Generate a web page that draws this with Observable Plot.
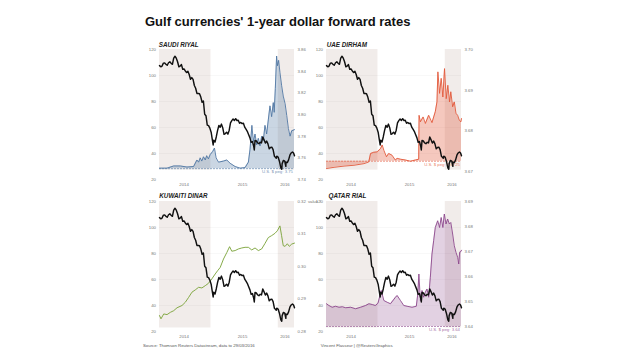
<!DOCTYPE html>
<html><head><meta charset="utf-8">
<script src="https://cdn.jsdelivr.net/npm/d3@7"></script>
<script src="https://cdn.jsdelivr.net/npm/@observablehq/plot@0.6"></script>
<style>
body{margin:0;background:#fff;}
#root{position:relative;width:620px;height:355px;overflow:hidden;font-family:"Liberation Sans",Arial,sans-serif;}
#root svg{position:absolute;}
</style></head><body><div id="root"></div>
<script>
// ---------- data ----------
const oilDates = ["2014-03-28","2014-04-04","2014-04-11","2014-04-18","2014-04-25","2014-05-02","2014-05-09","2014-05-16","2014-05-23","2014-05-30",
"2014-06-06","2014-06-13","2014-06-20","2014-06-27","2014-07-04","2014-07-11","2014-07-18","2014-07-25","2014-08-01","2014-08-08",
"2014-08-15","2014-08-22","2014-08-29","2014-09-05","2014-09-12","2014-09-19","2014-09-26","2014-10-03","2014-10-10","2014-10-17",
"2014-10-24","2014-10-31","2014-11-07","2014-11-14","2014-11-21","2014-11-28","2014-12-05","2014-12-12","2014-12-19","2014-12-26",
"2015-01-02","2015-01-09","2015-01-13","2015-01-16","2015-01-23","2015-01-30","2015-02-06","2015-02-13","2015-02-20","2015-02-27",
"2015-03-06","2015-03-13","2015-03-20","2015-03-27","2015-04-03","2015-04-10","2015-04-17","2015-04-24","2015-05-01","2015-05-08",
"2015-05-15","2015-05-22","2015-05-29","2015-06-05","2015-06-12","2015-06-19","2015-06-26","2015-07-03","2015-07-10","2015-07-17",
"2015-07-24","2015-07-31","2015-08-07","2015-08-14","2015-08-21","2015-08-24","2015-08-28","2015-09-04","2015-09-11","2015-09-18",
"2015-09-25","2015-10-02","2015-10-09","2015-10-16","2015-10-23","2015-10-30","2015-11-06","2015-11-13","2015-11-20","2015-11-27",
"2015-12-04","2015-12-11","2015-12-18","2015-12-21","2015-12-24","2015-12-31","2016-01-08","2016-01-15","2016-01-20","2016-01-22",
"2016-01-29","2016-02-05","2016-02-11","2016-02-12","2016-02-19","2016-02-26","2016-03-04","2016-03-11","2016-03-18","2016-03-24","2016-03-29"];
const oilPrice = [107.6,106.7,107.3,109.5,109.6,108.6,107.9,109.8,110.5,109.4,
108.6,113.4,114.8,113.3,110.6,106.7,107.2,108.4,104.8,105.0,
103.5,102.3,103.2,100.8,97.1,98.4,97.0,92.3,90.2,86.2,
86.1,85.9,83.4,79.4,80.4,70.2,69.1,61.9,61.4,59.5,
56.4,50.1,46.6,50.2,48.8,52.9,57.8,61.5,60.2,62.6,
59.7,54.7,55.3,56.4,54.9,57.9,63.5,65.3,66.5,65.4,
66.8,65.4,65.6,63.3,63.9,63.0,63.3,60.3,58.7,57.1,
54.6,52.2,48.6,49.2,45.5,42.7,50.1,49.6,48.1,47.5,
48.6,48.1,52.7,50.5,48.0,49.6,47.4,43.6,44.7,44.9,
43.0,37.9,36.9,36.4,37.9,37.3,33.6,28.9,27.9,32.2,
34.7,34.1,30.1,33.4,33.0,35.1,38.7,40.4,41.2,40.4,38.3];

const sarDates = ["2014-03-28","2014-05-08","2014-06-13","2014-07-19","2014-08-24","2014-09-29","2014-10-17","2014-10-26","2014-11-04","2014-11-12",
"2014-11-22","2014-12-01","2014-12-09","2014-12-18","2014-12-28","2015-01-11","2015-01-20","2015-01-29","2015-02-11","2015-03-10",
"2015-03-28","2015-04-15","2015-05-12","2015-06-08","2015-07-05","2015-07-23","2015-08-01","2015-08-11","2015-08-19","2015-08-28",
"2015-09-06","2015-09-15","2015-09-24","2015-10-03","2015-10-12","2015-10-21","2015-10-30","2015-11-08","2015-11-17","2015-11-26",
"2015-12-05","2015-12-10","2015-12-16","2015-12-23","2015-12-28","2016-01-03","2016-01-10","2016-01-19","2016-01-28","2016-02-07",
"2016-02-16","2016-02-25","2016-03-05","2016-03-14","2016-03-29"];
const sarValue = [3.7505,3.7505,3.7525,3.7525,3.7515,3.752,3.758,3.756,3.760,3.757,
3.761,3.758,3.762,3.759,3.763,3.766,3.769,3.760,3.756,3.757,
3.758,3.755,3.752,3.7505,3.751,3.756,3.768,3.790,3.775,3.782,
3.772,3.778,3.771,3.780,3.776,3.790,3.782,3.795,3.808,3.798,
3.811,3.802,3.824,3.854,3.845,3.850,3.839,3.827,3.817,3.810,
3.799,3.787,3.780,3.785,3.786];

const aedDates = ["2014-03-28","2014-05-08","2014-07-01","2014-08-24","2014-10-17","2014-11-12","2014-11-22","2014-12-09","2014-12-28","2015-01-15",
"2015-01-24","2015-02-02","2015-02-16","2015-02-28","2015-03-18","2015-04-05","2015-04-15","2015-05-03","2015-05-30","2015-06-26",
"2015-07-23","2015-08-10","2015-08-12","2015-08-19","2015-09-03","2015-09-15","2015-10-03","2015-10-21","2015-11-08","2015-11-17",
"2015-11-22","2015-12-01","2015-12-10","2015-12-19","2015-12-28","2016-01-06","2016-01-15","2016-01-24","2016-01-31","2016-02-10",
"2016-02-19","2016-02-28","2016-03-08","2016-03-17","2016-03-26","2016-03-29"];
const aedValue = [3.6707,3.6710,3.6713,3.6715,3.6719,3.6723,3.6744,3.6747,3.6748,3.6756,
3.6765,3.6752,3.6736,3.6744,3.6740,3.6728,3.6732,3.6730,3.6728,3.6725,
3.6728,3.6730,3.6838,3.6822,3.6834,3.6818,3.6838,3.6820,3.6847,3.6871,
3.6945,3.6892,3.6929,3.6883,3.6953,3.6879,3.6912,3.6871,3.6896,3.6859,
3.6871,3.6843,3.6838,3.6826,3.6822,3.6830];

const kwdDates = ["2014-03-28","2014-04-05","2014-04-20","2014-05-08","2014-05-26","2014-06-13","2014-07-01","2014-07-28","2014-08-15","2014-09-02",
"2014-09-20","2014-10-08","2014-10-26","2014-11-13","2014-12-01","2014-12-18","2015-01-06","2015-01-24","2015-02-06","2015-02-20",
"2015-03-10","2015-03-28","2015-04-12","2015-04-24","2015-05-12","2015-05-30","2015-06-17","2015-07-05","2015-07-23","2015-08-10",
"2015-08-28","2015-09-15","2015-10-03","2015-10-21","2015-11-08","2015-11-26","2015-12-14","2015-12-27","2016-01-10","2016-01-19",
"2016-01-28","2016-02-07","2016-02-19","2016-03-01","2016-03-14","2016-03-29"];
const kwdValue = [0.2849,0.2839,0.2854,0.2852,0.2859,0.2864,0.2873,0.2880,0.2890,0.2905,
0.2921,0.2928,0.2936,0.2934,0.2941,0.2948,0.2962,0.2977,0.2987,0.2997,
0.3023,0.3043,0.3061,0.3047,0.3049,0.3054,0.3057,0.3059,0.3059,0.3051,
0.3057,0.3049,0.3054,0.3071,0.3089,0.3095,0.3102,0.3110,0.3125,0.3095,
0.3064,0.3062,0.3070,0.3062,0.3069,0.3072];

const qarDates = ["2014-03-28","2014-04-10","2014-04-28","2014-05-16","2014-06-04","2014-06-22","2014-07-10","2014-08-06","2014-09-02","2014-09-29",
"2014-10-26","2014-11-13","2014-12-01","2014-12-18","2015-01-01","2015-01-19","2015-02-02","2015-02-20","2015-03-10","2015-04-06",
"2015-04-15","2015-05-03","2015-05-21","2015-06-08","2015-07-05","2015-07-28","2015-08-05","2015-08-11","2015-08-19","2015-08-28",
"2015-09-06","2015-09-15","2015-09-24","2015-10-03","2015-10-12","2015-10-21","2015-10-30","2015-11-08","2015-11-21","2015-12-01",
"2015-12-10","2015-12-19","2015-12-27","2016-01-05","2016-01-14","2016-01-23","2016-01-31","2016-02-10","2016-02-19","2016-02-28",
"2016-03-08","2016-03-14","2016-03-19","2016-03-26","2016-03-29"];
const qarValue = [3.6491,3.6484,3.6477,3.6481,3.6477,3.6479,3.6475,3.6477,3.6471,3.6477,
3.6484,3.6491,3.6488,3.6484,3.6493,3.6544,3.6504,3.6497,3.6491,3.6517,
3.6524,3.6504,3.6484,3.6481,3.6477,3.6481,3.6530,3.6610,3.6504,3.6544,
3.6517,3.6537,3.6550,3.6517,3.6597,3.6690,3.6743,3.6796,3.6823,3.6796,
3.6836,3.6796,3.6850,3.6810,3.6830,3.6810,3.6816,3.6770,3.6723,3.6697,
3.6677,3.6650,3.6697,3.6700,3.6705];

const bandStarts = ["2014-03-28","2016-01-01"];
const bandEnds = ["2015-01-01","2016-03-29"];
const xTickDates = ["2014-08-08","2015-06-21","2016-02-06"];
const xTickLabels = ["2014","2015","2016"];
const oilTicks = [20,40,60,80,100,120];
const gridTicks = [40,60,80,100];
const panelNames = ["SAUDI RIYAL","UAE DIRHAM","KUWAITI DINAR","QATAR RIAL"];
const sarTicks = [3.74,3.76,3.78,3.80,3.82,3.84,3.86];
const aedTicks = [3.67,3.68,3.69,3.70];
const kwdTicks = [0.28,0.29,0.30,0.31,0.32];
const qarTicks = [3.64,3.65,3.66,3.67,3.68,3.69];
const pegs = [3.75, 3.6725, null, 3.64];
const pegLabels = ["U.S. $ peg: 3.75","U.S. $ peg: 3.6725",null,"U.S. $ peg: 3.64"];
const titleText = "Gulf currencies' 1-year dollar forward rates";
const sourceText = "Source: Thomson Reuters Datastream, data to 29/03/2016";
const creditText = "Vincent Flasseur | @ReutersGraphics";

// ---------- build ----------
const toRows = (ds, vs) => ds.map((d, i) => ({date: new Date(d), value: vs[i]}));
const oil = toRows(oilDates, oilPrice);
const bands = bandStarts.map((s, i) => ({start: new Date(s), end: new Date(bandEnds[i])}));
const xDomain = [new Date("2014-03-28"), new Date("2016-03-29")];
const xTicks = xTickDates.map(d => new Date(d));
const xLabel = new Map(xTicks.map((d, i) => [+d, xTickLabels[i]]));

const FONT = "Liberation Sans, Arial, sans-serif";
const FS = 4.3;
const ML = 30, MR = 30, MT = 5, MB = 15, FW = 135, FH = 130;
const W = ML + FW + MR, H = MT + FH + MB;

const panels = [
  {name: panelNames[0], left: 159.3, top: 49.3, tx: 158.8, rows: toRows(sarDates, sarValue), domain: [3.74, 3.86], ticks: sarTicks, color: "#4f76a3", fillOp: 0.3, peg: pegs[0], pegLabel: pegLabels[0], bandBottom: 27.2},
  {name: panelNames[1], left: 326, top: 49.3, tx: 326.7, rows: toRows(aedDates, aedValue), domain: [3.668, 3.70], ticks: aedTicks, color: "#e2583a", fillOp: 0.33, peg: pegs[1], pegLabel: pegLabels[1], bandBottom: 27.2},
  {name: panelNames[2], left: 159.3, top: 200.7, tx: 159.3, rows: toRows(kwdDates, kwdValue), domain: [0.28, 0.32], ticks: kwdTicks, color: "#78a236", fillOp: 0, peg: pegs[2], pegLabel: pegLabels[2], bandBottom: 22.7},
  {name: panelNames[3], left: 326, top: 200.7, tx: 328.5, rows: toRows(qarDates, qarValue), domain: [3.638, 3.69], ticks: qarTicks, color: "#8c478c", fillOp: 0.25, peg: pegs[3], pegLabel: pegLabels[3], bandBottom: 22.7}
];

const root = document.getElementById("root");
const baseStyle = {background: "transparent", fontFamily: FONT, fontSize: FS + "px", overflow: "visible"};
function place(svg, p) {
  svg.setAttribute("font-size", FS);
  svg.style.left = (p.left - ML) + "px";
  svg.style.top = (p.top - MT) + "px";
  root.appendChild(svg);
}

for (const p of panels) {
  // layer 1: bands, grid, left axis
  place(Plot.plot({
    width: W, height: H, marginLeft: ML, marginRight: MR, marginTop: MT, marginBottom: MB,
    style: baseStyle,
    x: {type: "utc", domain: xDomain, axis: null},
    y: {domain: [20, 120]},
    marks: [
      Plot.rect(bands, {x1: "start", x2: "end", y1: p.bandBottom, y2: 120, fill: "#f1ecea"}),
      Plot.ruleY(gridTicks, {stroke: "#000", strokeOpacity: 0.06, strokeWidth: 0.5}),
      Plot.axisY(oilTicks, {anchor: "left", tickSize: 0, tickPadding: 3.5, fill: "#777", fontSize: FS})
    ]
  }), p);

  // layer 2: currency series
  const marks = [];
  if (p.fillOp > 0) marks.push(Plot.areaY(p.rows, {x: "date", y1: p.peg, y2: "value", fill: p.color, fillOpacity: p.fillOp}));
  if (p.peg != null) {
    marks.push(Plot.ruleY([p.peg], {stroke: p.color, strokeWidth: 0.6, strokeDasharray: "2,1"}));
    marks.push(Plot.text([{x: xDomain[1], y: p.peg, t: p.pegLabel}], {x: "x", y: "y", text: "t", textAnchor: "end", dx: -1.5, dy: 3, fill: p.color, fillOpacity: 0.8, fontSize: FS}));
  }
  marks.push(Plot.lineY(p.rows, {x: "date", y: "value", stroke: p.color, strokeWidth: 0.9}));
  marks.push(Plot.axisY(p.ticks, {anchor: "right", tickSize: 0, tickPadding: 3, tickFormat: d3.format(".2f"), fill: "#777", fontSize: FS}));
  marks.push(Plot.axisX(xTicks, {tickSize: 0, tickPadding: 3, tickFormat: d => xLabel.get(+d), fill: "#777", fontSize: FS}));
  place(Plot.plot({
    width: W, height: H, marginLeft: ML, marginRight: MR, marginTop: MT, marginBottom: MB,
    style: baseStyle,
    x: {type: "utc", domain: xDomain},
    y: {domain: p.domain},
    marks
  }), p);

  // layer 3: oil price
  place(Plot.plot({
    width: W, height: H, marginLeft: ML, marginRight: MR, marginTop: MT, marginBottom: MB,
    style: baseStyle,
    x: {type: "utc", domain: xDomain, axis: null},
    y: {domain: [20, 120], axis: null},
    marks: [Plot.lineY(oil, {x: "date", y: "value", stroke: "#111", strokeWidth: 1.45})]
  }), p);
}

// annotations
const ann = d3.select(root).append("svg").attr("width", 620).attr("height", 355)
  .style("left", "0px").style("top", "0px").style("font-family", FONT);
ann.append("text").attr("x", 145).attr("y", 26.3).attr("font-size", 13).attr("font-weight", "bold").attr("fill", "#111").text(titleText);
for (const p of panels) {
  ann.append("text").attr("x", p.tx).attr("y", p.top - 2.3).attr("font-size", 6.3).attr("font-weight", "bold")
    .attr("font-style", "italic").attr("fill", "#222").text(p.name);
}
ann.append("text").attr("x", 143).attr("y", 347.2).attr("font-size", FS).attr("fill", "#555").text(sourceText);
ann.append("text").attr("x", 320.7).attr("y", 347.2).attr("font-size", FS).attr("fill", "#555").text(creditText);
</script>
</body></html>
